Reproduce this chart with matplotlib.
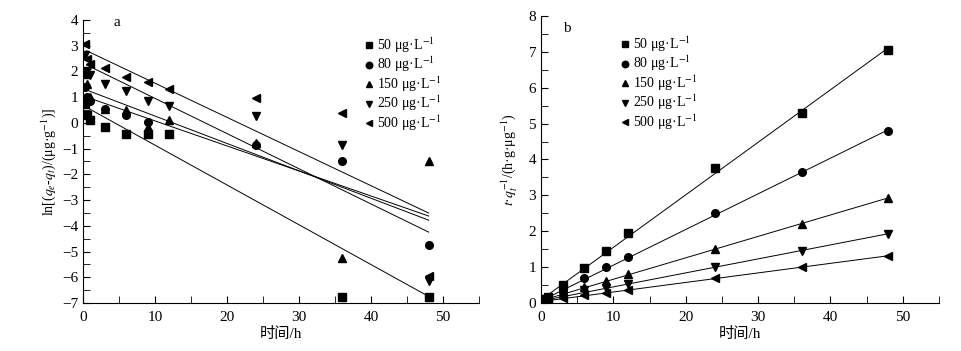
import numpy as np
import matplotlib
matplotlib.use("Agg")
import matplotlib.pyplot as plt
from matplotlib.ticker import MultipleLocator

plt.rcParams['font.family'] = ['Liberation Serif', 'Noto Sans CJK SC', 'DejaVu Sans']
plt.rcParams['mathtext.fontset'] = 'stix'
plt.rcParams['axes.unicode_minus'] = True

# sampling times (h)
t = np.array([0.25, 0.5, 1, 3, 6, 9, 12, 24, 36, 48])
labels = ['50 μg·L$^{-1}$', '80 μg·L$^{-1}$', '150 μg·L$^{-1}$',
          '250 μg·L$^{-1}$', '500 μg·L$^{-1}$']
markers = ['s', 'o', '^', 'v', '<']

# (a) pseudo-first-order: ln(qe-qt)
ln_50 = [0.75, 0.3, 0.1, -0.15, -0.42, -0.42, -0.42, np.nan, -6.75, -6.75]
ln_80 = [1.4, 1.0, 0.85, 0.55, 0.3, 0.05, -0.42, -0.85, -1.5, -4.75]
ln_150 = [1.9, 1.5, 1.0, 0.55, 0.5, -0.15, 0.1, -0.8, -5.25, -1.5]
ln_250 = [2.65, 2.0, 1.85, 1.5, 1.25, 0.85, 0.65, 0.25, -0.85, -6.15]
ln_500 = [3.05, 2.5, 2.3, 2.15, 1.8, 1.6, 1.3, 0.95, 0.4, -5.95]
# fitted lines (slope, intercept)
fit_a_slope = [-0.1547, -0.0973, -0.1065, -0.1368, -0.1328]
fit_a_icpt = [0.68, 1.05, 1.33, 2.32, 2.87]

# (b) pseudo-second-order: t/qt
tq_50 = [0.08, 0.1, 0.18, 0.5, 0.97, 1.45, 1.95, 3.75, 5.3, 7.05]
tq_80 = [0.06, 0.07, 0.12, 0.35, 0.7, 1.0, 1.27, 2.5, 3.65, 4.78]
tq_150 = [0.05, 0.06, 0.1, 0.3, 0.45, 0.6, 0.8, 1.5, 2.2, 2.93]
tq_250 = [0.04, 0.05, 0.08, 0.2, 0.35, 0.42, 0.52, 1.0, 1.45, 1.93]
tq_500 = [0.03, 0.04, 0.05, 0.13, 0.22, 0.28, 0.37, 0.7, 1.0, 1.3]

ln_all = [ln_50, ln_80, ln_150, ln_250, ln_500]
tq_all = [tq_50, tq_80, tq_150, tq_250, tq_500]

fig = plt.figure(figsize=(9.62, 3.51), dpi=100)
ax1 = fig.add_axes([0.0863, 0.1368, 0.4117, 0.8063])
ax2 = fig.add_axes([0.5624, 0.1368, 0.4137, 0.8177])

tl = np.linspace(0.5, 48, 50)
for i in range(5):
    ax1.plot(t, ln_all[i], markers[i], color='black', ms=5.5, label=labels[i])
    ax1.plot(tl, fit_a_slope[i] * tl + fit_a_icpt[i], color='black', lw=0.7)

tl2 = np.linspace(0.25, 48, 50)
for i in range(5):
    ax2.plot(t, tq_all[i], markers[i], color='black', ms=5.5, label=labels[i])
    k, b = np.polyfit(t, tq_all[i], 1)
    ax2.plot(tl2, k * tl2 + b, color='black', lw=0.7)

for ax in (ax1, ax2):
    ax.spines['top'].set_visible(False)
    ax.spines['right'].set_visible(False)
    ax.set_xlim(0, 55)
    ax.xaxis.set_major_locator(MultipleLocator(10))
    ax.xaxis.set_minor_locator(MultipleLocator(5))
    ax.yaxis.set_minor_locator(MultipleLocator(0.5))
    ax.tick_params(which='both', direction='in', labelsize=11, length=5)
    ax.tick_params(axis='x', pad=6)
    ax.set_xlabel('时间/h', fontsize=11, labelpad=2)
    ax.legend(loc='upper left', frameon=False, fontsize=10, handletextpad=0.1,
              labelspacing=0.0, borderaxespad=0, handlelength=1.0, markerscale=0.85)

ax1.set_ylim(-7, 4)
ax1.yaxis.set_major_locator(MultipleLocator(1))
ax1.set_ylabel(r'ln[($q_e$-$q_t$)/(μg·g$^{-1}$)]', fontsize=10, labelpad=3)
ax1.text(0.076, 0.99, 'a', transform=ax1.transAxes, fontsize=11, va='center')
ax1.legend_.set_bbox_to_anchor((0.69, 0.965))

ax2.set_ylim(0, 8)
ax2.yaxis.set_major_locator(MultipleLocator(1))
ax2.set_ylabel(r'$t$·$q_t^{-1}$/(h·g·μg$^{-1}$)', fontsize=10, labelpad=7)
ax2.text(0.055, 0.955, 'b', transform=ax2.transAxes, fontsize=11, va='center')
ax2.legend_.set_bbox_to_anchor((0.18, 0.955))

fig.savefig('out.png', dpi=100)
